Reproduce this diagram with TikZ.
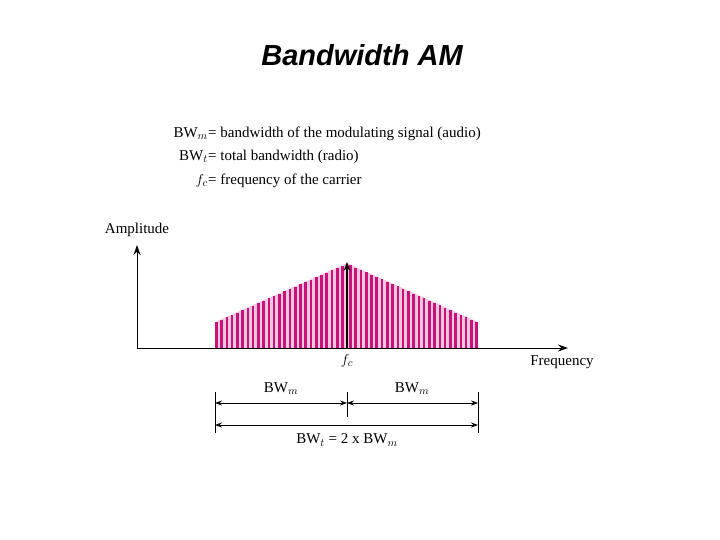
\documentclass[tikz,border=0pt]{standalone}
\usepackage{fontspec}
\setmainfont{Liberation Serif}
\newfontfamily\titlefont{Liberation Sans}
\usetikzlibrary{arrows.meta}
\definecolor{mag}{HTML}{C8147A}
\definecolor{pinkbg}{HTML}{F6C6DF}
\begin{document}
\begin{tikzpicture}[x=1pt,y=-1pt,
  lbl/.style={inner sep=0pt,font=\fontsize{15}{17}\selectfont},
  dim/.style={{Stealth[length=7pt,width=5pt]}-{Stealth[length=7pt,width=5pt]},line width=0.8pt},
  axis/.style={-{Stealth[length=10pt,width=7pt]},line width=1pt}]
\useasboundingbox (0,0) rectangle (720,540);
\node[font=\titlefont\bfseries\itshape\fontsize{29}{33}\selectfont] (title) at (362,55) {Bandwidth AM};
\node[lbl,anchor=east] (l1) at (208,134) {BW$_m$};
\node[lbl,anchor=west] (r1) at (208,134) {= bandwidth of the modulating signal (audio)};
\node[lbl,anchor=east] (l2) at (208,157) {BW$_t$};
\node[lbl,anchor=west] (r2) at (208,157) {= total bandwidth (radio)};
\node[lbl,anchor=east] (l3) at (208,181) {$f_c$};
\node[lbl,anchor=west] (r3) at (208,181) {= frequency of the carrier};
% spectrum
\fill[pinkbg] (215,348) -- (215,322) -- (347,263) -- (478,322) -- (478,348) -- cycle;
\foreach \i in {0,...,24} {
  \pgfmathsetmacro{\xx}{215+\i*5.26}
  \pgfmathsetmacro{\hh}{322-59*(\xx-215)/132}
  \fill[mag] (\xx,348) rectangle (\xx+2.6,\hh);
  \pgfmathsetmacro{\xr}{478-\i*5.26}
  \pgfmathsetmacro{\hr}{322-59*(478-\xr)/131}
  \fill[mag] (\xr,348) rectangle (\xr-2.6,\hr);
}
\coordinate (o) at (137,348);
\coordinate (ytop) at (137,245);
\coordinate (xend) at (568,348);
\draw[axis] (o) -- (ytop);
\draw[axis] (o) -- (xend);
\coordinate (cb) at (347,348);
\coordinate (ct) at (347,262);
\draw[line width=2pt,-{Stealth[length=9pt,width=7pt]}] (cb) -- (ct);
\node[lbl] (amp) at (137,230) {Amplitude};
\node[lbl] (freq) at (562,362) {Frequency};
\node[lbl] (fc) at (347,361) {$f_c$};
% dimensions
\coordinate (a1) at (215,392); \coordinate (a2) at (215,433);
\coordinate (b1) at (347,392); \coordinate (b2) at (347,417);
\coordinate (c1) at (478,392); \coordinate (c2) at (478,433);
\draw[line width=0.8pt] (a1) -- (a2) (b1) -- (b2) (c1) -- (c2);
\coordinate (d1) at (215,403); \coordinate (d2) at (347,403); \coordinate (d3) at (478,403);
\coordinate (e1) at (215,425); \coordinate (e2) at (478,425);
\draw[dim] (d1) -- (d2);
\draw[dim] (d2) -- (d3);
\draw[dim] (e1) -- (e2);
\node[lbl] (bm1) at (281,389) {BW$_m$};
\node[lbl] (bm2) at (412,389) {BW$_m$};
\node[lbl] (bt) at (347,440) {BW$_t$ = 2 x BW$_m$};
\end{tikzpicture}
\end{document}
